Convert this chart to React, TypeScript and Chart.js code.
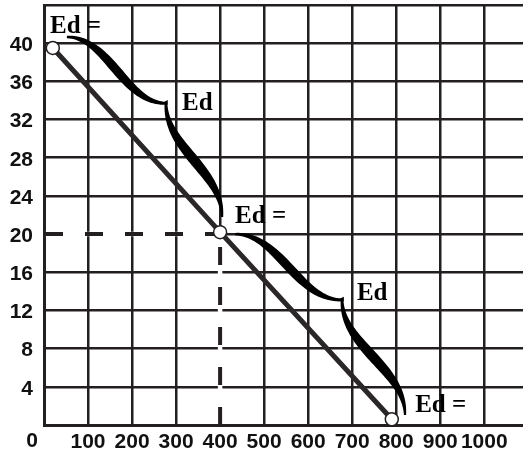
import { useEffect, useRef } from "react";
import { Chart, registerables } from "chart.js";

Chart.register(...registerables);

// ---- data ----
const xTicks = [0, 100, 200, 300, 400, 500, 600, 700, 800, 900, 1000];
const xLabels = [100, 200, 300, 400, 500, 600, 700, 800, 900, 1000]; // "0" is drawn at the corner
const originLabel = "0";
const yTicks = [0, 4, 8, 12, 16, 20, 24, 28, 32, 36, 40, 44];
const yLabels = [4, 8, 12, 16, 20, 24, 28, 32, 36, 40];
const demandX = [20, 400, 790];
const demandY = [39.5, 20.2, 0.6];
const guideX = 400;
const guideY = 20;
const noteTexts = ["Ed =", "Ed", "Ed =", "Ed", "Ed ="];
const noteX = [13.6, 313.6, 434, 710.7, 843];
const noteY = [41.07, 33.05, 21.13, 13.1, 1.39];
// braces: start tip, cusp, end tip (data units)
const braceStart = [[52, 40.65], [434, 20.0]];
const braceCusp = [[277, 33.7], [677, 13.1]];
const braceEnd = [[404.5, 21.8], [820, 1.05]];

const INK = "#231f20";

type P = { x: number; y: number };

function bez(p: P[], t: number): P {
  const u = 1 - t;
  return {
    x: u * u * u * p[0].x + 3 * u * u * t * p[1].x + 3 * u * t * t * p[2].x + t * t * t * p[3].x,
    y: u * u * u * p[0].y + 3 * u * u * t * p[1].y + 3 * u * t * t * p[2].y + t * t * t * p[3].y,
  };
}
function bezD(p: P[], t: number): P {
  const u = 1 - t;
  return {
    x: 3 * u * u * (p[1].x - p[0].x) + 6 * u * t * (p[2].x - p[1].x) + 3 * t * t * (p[3].x - p[2].x),
    y: 3 * u * u * (p[1].y - p[0].y) + 6 * u * t * (p[2].y - p[1].y) + 3 * t * t * (p[3].y - p[2].y),
  };
}
function fillTapered(ctx: CanvasRenderingContext2D, p: P[], w0: number, wMax: number, w1: number) {
  const N = 48;
  const left: P[] = [];
  const right: P[] = [];
  for (let i = 0; i <= N; i++) {
    const t = i / N;
    const pt = bez(p, t);
    const d = bezD(p, t);
    const len = Math.hypot(d.x, d.y) || 1;
    const nx = -d.y / len;
    const ny = d.x / len;
    const base = w0 + (w1 - w0) * t;
    const w = base + (wMax - base) * Math.pow(Math.sin(Math.PI * t), 1.2);
    left.push({ x: pt.x + (nx * w) / 2, y: pt.y + (ny * w) / 2 });
    right.push({ x: pt.x - (nx * w) / 2, y: pt.y - (ny * w) / 2 });
  }
  ctx.beginPath();
  ctx.moveTo(left[0].x, left[0].y);
  for (let i = 1; i < left.length; i++) ctx.lineTo(left[i].x, left[i].y);
  for (let i = right.length - 1; i >= 0; i--) ctx.lineTo(right[i].x, right[i].y);
  ctx.closePath();
  ctx.fill();
}

const overlayPlugin = {
  id: "overlay",
  beforeDatasetsDraw(chart: any) {
    const { ctx, scales } = chart;
    const xs = scales.x;
    const ys = scales.y;
    const x0 = xs.getPixelForValue(0);
    const gx = xs.getPixelForValue(guideX);
    const gy = ys.getPixelForValue(guideY);
    const y0 = ys.getPixelForValue(0);
    ctx.save();
    ctx.lineCap = "butt";
    ctx.strokeStyle = "#ffffff";
    ctx.lineWidth = 4.5;
    ctx.beginPath();
    ctx.moveTo(x0 + 1.5, gy);
    ctx.lineTo(gx, gy);
    ctx.moveTo(gx, y0 - 1.5);
    ctx.lineTo(gx, gy);
    ctx.stroke();
    ctx.strokeStyle = INK;
    ctx.lineWidth = 4;
    ctx.setLineDash([18, 22]);
    ctx.beginPath();
    ctx.moveTo(x0 + 1, gy);
    ctx.lineTo(gx, gy);
    ctx.stroke();
    ctx.beginPath();
    ctx.moveTo(gx, y0);
    ctx.lineTo(gx, gy);
    ctx.stroke();
    ctx.restore();
  },
  afterDatasetsDraw(chart: any) {
    const { ctx, scales, chartArea } = chart;
    const xs = scales.x;
    const ys = scales.y;
    const px = (v: number[]): P => ({ x: xs.getPixelForValue(v[0]), y: ys.getPixelForValue(v[1]) });
    ctx.save();
    ctx.fillStyle = "#000";
    for (let i = 0; i < braceStart.length; i++) {
      const A = px(braceStart[i]);
      const C = px(braceCusp[i]);
      const B = px(braceEnd[i]);
      const dx = C.x - A.x;
      const dy = B.y - C.y;
      const k1 = 0.42;
      const k2 = 0.4;
      fillTapered(ctx, [A, { x: A.x + k1 * dx, y: A.y }, { x: C.x - k1 * dx, y: C.y }, C], 2.4, 9, 2.8);
      fillTapered(ctx, [C, { x: C.x, y: C.y + k2 * dy }, { x: B.x, y: B.y - k2 * dy }, B], 2.8, 10, 2.2);
      ctx.beginPath();
      ctx.moveTo(C.x - 2, C.y - 1.4);
      ctx.lineTo(C.x + 1.8, C.y - 3.2);
      ctx.lineTo(C.x + 1.8, C.y + 1.6);
      ctx.closePath();
      ctx.fill();
    }
    ctx.font = "bold 25px 'Liberation Serif', 'Times New Roman', serif";
    ctx.textAlign = "left";
    ctx.textBaseline = "alphabetic";
    for (let i = 0; i < noteTexts.length; i++) {
      ctx.fillText(noteTexts[i], xs.getPixelForValue(noteX[i]), ys.getPixelForValue(noteY[i]));
    }
    ctx.font = "bold 21px 'Liberation Sans', Arial, sans-serif";
    ctx.fillStyle = "#111";
    ctx.textAlign = "center";
    ctx.fillText(originLabel, xs.getPixelForValue(0) - 12, chartArea.bottom + 21.7);
    ctx.restore();
  },
};

export default function App() {
  const ref = useRef<HTMLCanvasElement | null>(null);
  useEffect(() => {
    if (!ref.current) return;
    const tickFont = { family: "'Liberation Sans', Arial, sans-serif", size: 21, weight: "bold" as const };
    const chart = new Chart(ref.current, {
      type: "line",
      data: {
        datasets: [
          {
            data: demandX.map((x, i) => ({ x, y: demandY[i] })),
            borderColor: "#2b2728",
            borderWidth: 5,
            pointRadius: 6.5,
            pointBackgroundColor: "#ffffff",
            pointBorderColor: INK,
            pointBorderWidth: 1.5,
            tension: 0,
          },
        ],
      },
      options: {
        animation: false,
        responsive: true,
        maintainAspectRatio: false,
        layout: { autoPadding: false, padding: { top: 5, left: 0, right: 0, bottom: 0 } },
        plugins: { legend: { display: false }, tooltip: { enabled: false } },
        scales: {
          x: {
            type: "linear",
            min: 0,
            max: 1088,
            afterBuildTicks: (axis: any) => {
              axis.ticks = xTicks.map((v) => ({ value: v }));
            },
            afterFit: (scale: any) => {
              scale.height = 27;
              scale.paddingLeft = 0;
              scale.paddingRight = 0;
            },
            ticks: {
              font: tickFont,
              color: "#111",
              padding: 5,
              maxRotation: 0,
              autoSkip: false,
              callback: (v: any) => (xLabels.includes(Number(v)) ? String(v) : ""),
            },
            grid: { color: INK, lineWidth: 2.5, drawTicks: false },
            border: { color: INK, width: 3 },
          },
          y: {
            type: "linear",
            min: 0,
            max: 44,
            afterBuildTicks: (axis: any) => {
              axis.ticks = yTicks.map((v) => ({ value: v }));
            },
            afterFit: (scale: any) => {
              scale.width = 44;
              scale.paddingTop = 0;
              scale.paddingBottom = 0;
            },
            ticks: {
              font: tickFont,
              color: "#111",
              padding: 11,
              labelOffset: 2,
              autoSkip: false,
              callback: (v: any) => (yLabels.includes(Number(v)) ? String(v) : ""),
            },
            grid: { color: INK, lineWidth: 2.5, drawTicks: false },
            border: { color: INK, width: 3 },
          },
        },
      },
      plugins: [overlayPlugin],
    });
    return () => chart.destroy();
  }, []);
  return (
    <div style={{ position: "fixed", left: 0, top: 0, width: 523, height: 452, background: "#fff" }}>
      <canvas ref={ref} />
    </div>
  );
}
